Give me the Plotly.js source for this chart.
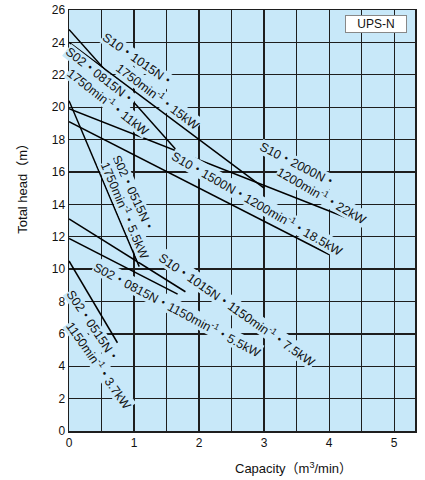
<!DOCTYPE html>
<html>
<head>
<meta charset="utf-8">
<script src="https://cdn.plot.ly/plotly-3.0.1.min.js"></script>
<style>html,body{margin:0;padding:0;background:#fff;}#chart{width:425px;height:480px;}</style>
</head>
<body>
<div id="chart"></div>
<script>
// Pump performance lines (capacity m3/min vs total head m)
const seriesNames = [
  "S10・1015N・1750min-1・15kW",
  "S02・0815N・1750min-1・11kW",
  "S10・2000N・1200min-1・22kW",
  "S10・1500N・1200min-1・18.5kW",
  "S02・0515N・1750min-1・5.5kW",
  "S10・1015N・1150min-1・7.5kW",
  "S02・0815N・1150min-1・5.5kW",
  "S02・0515N・1150min-1・3.7kW"
];
const startQ = [0, 0, 0, 0, 0, 0, 0, 0];
const startH = [24.0, 24.8, 19.9, 19.1, 20.4, 13.1, 11.9, 10.5];
const endQ   = [3.0, 1.66, 4.5, 4.0, 1.08, 1.79, 1.67, 0.745];
const endH   = [15.0, 17.3, 12.8, 10.9, 10.15, 8.6, 8.45, 5.45];

// Label lines and where they sit (data coords) with rotation
const labelTexts = [
  "S10・1015N・", "1750min<sup>-1</sup>・15kW",
  "S02・0815N・", "1750min<sup>-1</sup>・11kW",
  "S10・2000N・", "1200min<sup>-1</sup>・22kW",
  "S10・1500N・1200min<sup>-1</sup>・18.5kW",
  "S02・0515N・", "1750min<sup>-1</sup>・5.5kW",
  "S10・1015N・1150min<sup>-1</sup>・7.5kW",
  "S02・0815N・1150min<sup>-1</sup>・5.5kW",
  "S02・0515N・", "1150min<sup>-1</sup>・3.7kW"
];
const labelQ = [1.06, 1.37, 0.477, 0.600, 3.52, 3.888, 2.90, 0.985, 0.870, 2.585, 1.662, 0.374, 0.465];
const labelH = [22.90, 20.68, 21.90, 20.38, 16.43, 14.58, 14.08, 14.62, 13.65, 7.54, 7.54, 6.44, 4.08];
const labelAngle = [35, 37, 38, 38, 27, 30, 30, 65, 67, 35, 28, 56, 55];

const xTickVals = [0, 1, 2, 3, 4, 5];
const yTickVals = [0, 2, 4, 6, 8, 10, 12, 14, 16, 18, 20, 22, 24, 26];

const plotBg = "#c8e8f9";
const gridCol = "#1e1e1e";
const fontFam = "Liberation Sans, Arial, Noto Sans CJK JP, sans-serif";

const traces = seriesNames.map((n, i) => ({
  type: "scatter", mode: "lines", name: n,
  x: [startQ[i], endQ[i]], y: [startH[i], endH[i]],
  line: {color: "#000", width: 1.5},
  hoverinfo: "skip", showlegend: false
}));

const annotations = labelTexts.map((t, i) => ({
  text: t, x: labelQ[i], y: labelH[i], xref: "x", yref: "y",
  showarrow: false, textangle: labelAngle[i],
  xanchor: "center", yanchor: "middle",
  font: {family: fontFam, size: 12.5, color: "#111"},
  bgcolor: plotBg, borderpad: 0
}));

annotations.push({
  text: "UPS-N", xref: "paper", yref: "paper", x: 0.887, y: 0.967,
  xanchor: "center", yanchor: "middle", showarrow: false,
  font: {family: fontFam, size: 12, color: "#111"},
  bgcolor: "#fff", bordercolor: "#888", borderwidth: 1, width: 60, height: 16, borderpad: 0
});
annotations.push({
  text: "Capacity（m<sup>3</sup>/min）", xref: "paper", yref: "paper",
  x: 0.65, y: -0.088, xanchor: "center", yanchor: "middle", showarrow: false,
  font: {family: fontFam, size: 13, color: "#111"}
});
annotations.push({
  text: "Total head（m）", xref: "paper", yref: "paper",
  x: -0.133, y: 0.585, xanchor: "center", yanchor: "middle", showarrow: false,
  textangle: -90,
  font: {family: fontFam, size: 13, color: "#111"}
});

const layout = {
  width: 425, height: 480,
  margin: {l: 69, r: 10, t: 10, b: 49},
  paper_bgcolor: "#fff", plot_bgcolor: plotBg,
  showlegend: false,
  font: {family: fontFam, size: 12, color: "#111"},
  xaxis: {
    range: [0, 5.32], tickvals: xTickVals, ticktext: xTickVals.map(String),
    showgrid: true, gridcolor: gridCol, gridwidth: 1.3,
    minor: {dtick: 0.5, tick0: 0, showgrid: true, gridcolor: gridCol, gridwidth: 1.3},
    zeroline: false, showline: true, mirror: true, linecolor: gridCol, linewidth: 1.5,
    ticks: "", tickfont: {family: fontFam, size: 12, color: "#111"}, fixedrange: true
  },
  yaxis: {
    range: [0, 26], tickvals: yTickVals, ticktext: yTickVals.map(String),
    showgrid: true, gridcolor: gridCol, gridwidth: 1.3,
    zeroline: false, showline: true, mirror: true, linecolor: gridCol, linewidth: 1.5,
    ticks: "", tickfont: {family: fontFam, size: 12, color: "#111"}, fixedrange: true
  },
  annotations: annotations
};

Plotly.newPlot("chart", traces, layout, {displayModeBar: false, staticPlot: true});
</script>
</body>
</html>
